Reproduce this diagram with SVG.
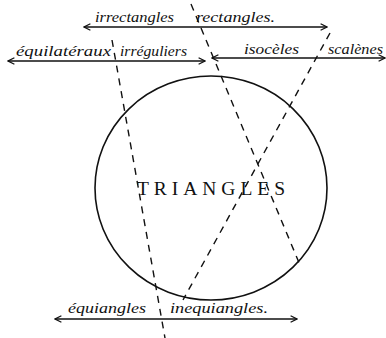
<svg xmlns="http://www.w3.org/2000/svg" width="386" height="338" viewBox="0 0 386 338">
<style>
.lbl{font-family:"Liberation Serif","DejaVu Serif",serif;font-style:italic;font-size:15px;fill:#111}
.title{font-family:"Liberation Serif","DejaVu Serif",serif;font-size:19.5px;fill:#111}
.arrow{stroke:#111;stroke-width:1.4;fill:none;marker-start:url(#ah);marker-end:url(#ah)}
.dash{stroke:#111;stroke-width:1.4;fill:none;stroke-dasharray:7 6}
</style>
<defs>
<marker id="ah" viewBox="0 0 10 10" refX="9" refY="5" markerWidth="8" markerHeight="8" markerUnits="userSpaceOnUse" orient="auto-start-reverse">
<path d="M1,1 L9,5 L1,9" fill="none" stroke="#111" stroke-width="1.6"/>
</marker>
</defs>
<rect width="386" height="338" fill="#fff"/>
<g id="circle">
<ellipse cx="211" cy="188" rx="116" ry="112" fill="none" stroke="#111" stroke-width="1.6"/>
<text class="title" x="137" y="195" textLength="148" lengthAdjust="spacing">TRIANGLES</text>
</g>
<g id="connectors">
<line class="arrow" x1="84" y1="27" x2="327" y2="27"/>
<line class="arrow" x1="8" y1="61" x2="205" y2="61"/>
<line class="arrow" x1="212" y1="58" x2="385" y2="58"/>
<line class="arrow" x1="55" y1="319" x2="297" y2="319"/>
<line class="dash" x1="112" y1="40" x2="165" y2="338"/>
<line class="dash" x1="191" y1="4" x2="300" y2="265"/>
<line class="dash" x1="330" y1="33" x2="183" y2="300"/>
</g>
<g id="labels">
<text class="lbl" x="95" y="22" textLength="79" lengthAdjust="spacingAndGlyphs">irrectangles</text>
<text class="lbl" x="196" y="22" textLength="79" lengthAdjust="spacingAndGlyphs">rectangles.</text>
<text class="lbl" x="16" y="56" textLength="95" lengthAdjust="spacingAndGlyphs">équilatéraux</text>
<text class="lbl" x="120" y="56" textLength="67" lengthAdjust="spacingAndGlyphs">irréguliers</text>
<text class="lbl" x="244" y="54" textLength="55" lengthAdjust="spacingAndGlyphs">isocèles</text>
<text class="lbl" x="328" y="54" textLength="55" lengthAdjust="spacingAndGlyphs">scalènes</text>
<text class="lbl" x="68" y="313" textLength="78" lengthAdjust="spacingAndGlyphs">équiangles</text>
<text class="lbl" x="170" y="313" textLength="98" lengthAdjust="spacingAndGlyphs">inequiangles.</text>
</g>
</svg>
